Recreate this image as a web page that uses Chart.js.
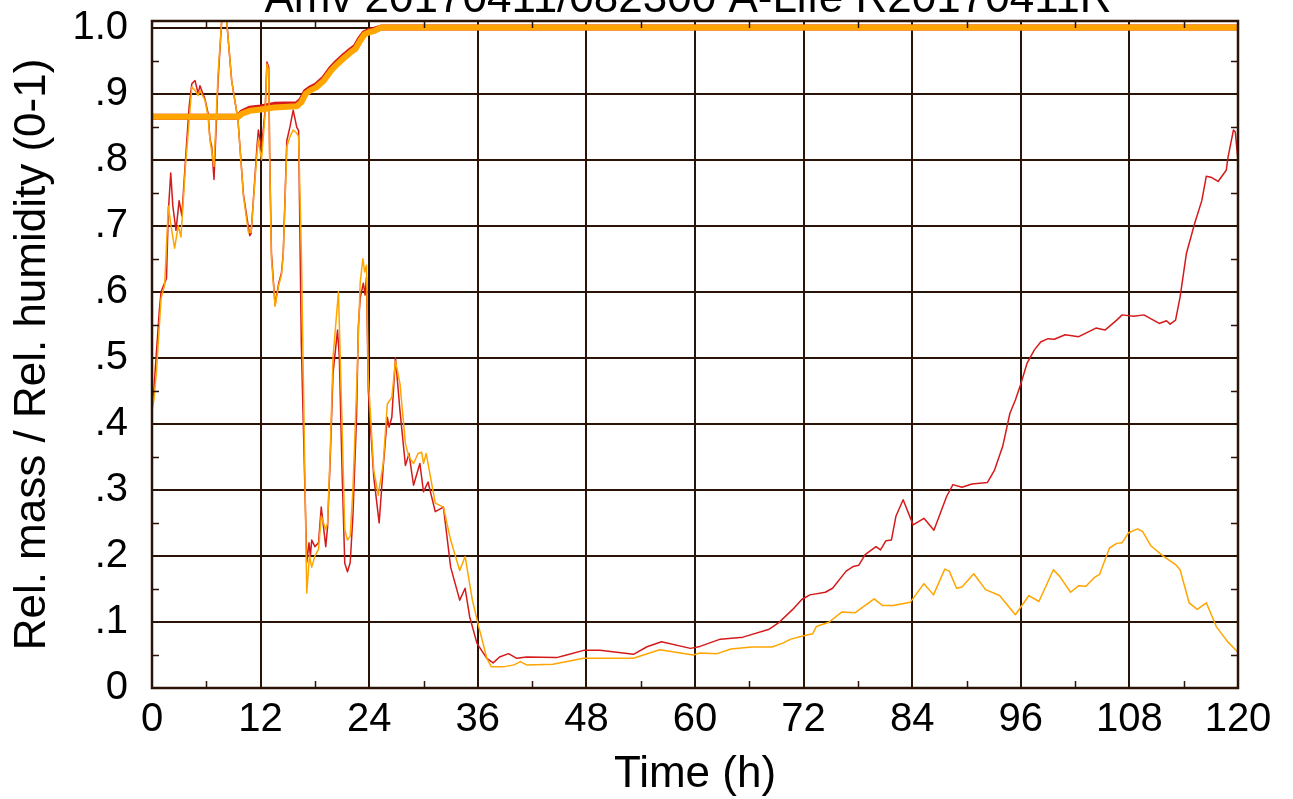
<!DOCTYPE html>
<html><head><meta charset="utf-8">
<script src="https://cdn.jsdelivr.net/npm/chart.js@4.4.1/dist/chart.umd.min.js"></script>
<style>html,body{margin:0;padding:0;background:#fff;overflow:hidden}#wrap{width:1293px;height:799px;position:relative}</style>
</head><body><div id="wrap"><canvas id="c" width="1293" height="799"></canvas></div>
<script>
const chartTitle = 'Amv 20170411/082300 A-Life R20170411R';
const xTitle = 'Time (h)';
const yTitle = 'Rel. mass / Rel. humidity (0-1)';
const xTickValues = [0,12,24,36,48,60,72,84,96,108,120];
const xTickLabels = ['0','12','24','36','48','60','72','84','96','108','120'];
const xMinorValues = [6,18,30,42,54,66,78,90,102,114];
const yTickValues = [0,0.1,0.2,0.3,0.4,0.5,0.6,0.7,0.8,0.9,1.0];
const yTickLabels = ['0','.1','.2','.3','.4','.5','.6','.7','.8','.9','1.0'];
const yMinorValues = [0.05,0.15,0.25,0.35,0.45,0.55,0.65,0.75,0.85,0.95];

const redMassTimes = [0,0.2,0.4,0.8,1.0,1.3,1.6,1.8,2.07,2.3,2.65,3.0,3.3,3.7,4.1,4.4,4.75,5.1,5.3,5.85,6.2,6.4,6.6,6.85,7.3,7.7,8.25,8.8,9.5,10.1,10.65,10.8,10.95,11.6,11.75,12.1,12.5,12.7,12.9,13.0,13.2,13.6,14.0,14.3,14.5,14.9,15.25,15.6,16.0,16.2,16.5,17.1,17.35,17.5,17.65,18.0,18.4,18.7,19.2,19.4,19.7,20.0,20.5,20.7,21.0,21.3,21.6,21.9,22.2,22.6,22.8,23.0,23.35,23.55,23.7,23.9,24.5,25.1,25.55,26.0,26.2,26.5,26.9,27.4,28.0,28.4,28.9,29.6,30.0,30.5,31.3,32.2,33.0,34.0,34.6,35.1,35.9,36.5,37.0,37.7,38.4,39.4,40.3,41.4,44.7,45.8,47.7,49.5,53.2,54.7,56.3,59.5,60.55,62.8,65.3,68.2,69.3,70.8,71.8,72.7,74.4,75.2,76.7,77.5,78.1,78.8,80.0,80.5,81.1,81.7,82.2,83.0,84.1,85.3,86.4,87.8,88.5,89.5,90.6,92.3,93.1,94.0,94.8,95.4,95.9,96.7,97.5,98.2,99.0,99.7,100.9,102.4,104.3,105.3,106.6,107.2,108.5,109.6,111.3,112.1,112.5,113.1,113.6,114.3,115.2,116.0,116.5,117.1,117.8,118.7,118.9,119.5,119.7,120.0];
const redMass = [0.43,0.45,0.49,0.57,0.60,0.61,0.62,0.72,0.78,0.73,0.693,0.738,0.715,0.80,0.88,0.915,0.92,0.90,0.912,0.892,0.87,0.832,0.82,0.77,0.92,1.01,1.01,0.92,0.86,0.748,0.698,0.685,0.688,0.82,0.845,0.817,0.875,0.948,0.94,0.81,0.658,0.58,0.613,0.628,0.658,0.829,0.85,0.875,0.849,0.844,0.52,0.19,0.22,0.20,0.224,0.214,0.22,0.274,0.214,0.244,0.35,0.476,0.542,0.50,0.33,0.189,0.176,0.19,0.26,0.41,0.547,0.59,0.613,0.595,0.622,0.45,0.32,0.25,0.335,0.41,0.395,0.41,0.50,0.42,0.337,0.355,0.307,0.34,0.297,0.312,0.267,0.274,0.183,0.133,0.151,0.108,0.068,0.055,0.045,0.038,0.047,0.052,0.045,0.047,0.046,0.05,0.057,0.057,0.051,0.0625,0.07,0.060,0.063,0.074,0.077,0.089,0.0995,0.119,0.134,0.141,0.145,0.151,0.177,0.184,0.186,0.202,0.214,0.209,0.223,0.224,0.26,0.285,0.247,0.257,0.239,0.29,0.308,0.304,0.309,0.311,0.33,0.366,0.416,0.436,0.456,0.492,0.512,0.524,0.529,0.528,0.535,0.532,0.545,0.542,0.557,0.565,0.563,0.565,0.552,0.556,0.551,0.557,0.592,0.658,0.703,0.738,0.775,0.773,0.767,0.784,0.804,0.845,0.842,0.799];

const orangeMassTimes = [0,0.2,0.5,1.0,1.4,1.8,2.1,2.5,2.9,3.2,3.7,4.4,4.75,5.1,5.3,5.85,6.2,6.4,6.85,7.3,7.7,8.25,8.8,9.5,10.1,10.65,10.95,11.6,11.75,12.1,12.5,12.7,12.9,13.0,13.2,13.6,14.0,14.3,14.5,14.9,15.25,15.6,16.0,16.2,16.5,17.1,17.4,17.65,18.0,18.4,18.7,19.2,19.4,19.7,20.0,20.6,21.0,21.3,21.6,21.9,22.2,22.6,23.0,23.3,23.5,23.7,23.9,24.5,25.0,25.55,26.0,26.5,26.9,27.4,28.0,28.4,28.9,29.4,29.8,30.0,30.3,31.3,32.2,33.0,34.0,34.6,35.4,36.1,37.0,37.5,38.8,40.0,40.7,41.4,44.3,47.7,53.2,56.1,59.8,60.55,62.45,63.97,66.26,68.5,69.7,70.6,72.0,73.0,73.4,74.8,76.2,77.7,79.8,80.7,81.9,83.8,85.3,86.35,87.6,88.1,88.9,89.5,90.8,92.1,93.65,95.4,96.9,98.0,99.6,100.3,101.5,102.4,103.2,104.1,104.7,105.8,106.6,107.2,107.9,108.9,109.45,110.4,111.7,113.1,113.6,114.6,115.5,116.5,117.6,118.8,120.0];
const orangeMass = [0.42,0.435,0.48,0.59,0.61,0.73,0.70,0.666,0.70,0.683,0.79,0.91,0.905,0.897,0.905,0.89,0.865,0.83,0.79,0.93,1.01,1.01,0.92,0.86,0.745,0.69,0.69,0.81,0.83,0.80,0.87,0.945,0.935,0.80,0.65,0.578,0.61,0.625,0.655,0.82,0.835,0.845,0.84,0.835,0.663,0.144,0.20,0.183,0.20,0.21,0.26,0.24,0.25,0.36,0.50,0.60,0.40,0.24,0.224,0.23,0.30,0.45,0.613,0.65,0.63,0.64,0.47,0.33,0.292,0.34,0.43,0.44,0.495,0.461,0.37,0.35,0.34,0.355,0.357,0.34,0.355,0.28,0.274,0.224,0.178,0.199,0.133,0.093,0.045,0.032,0.032,0.035,0.04,0.035,0.036,0.045,0.045,0.058,0.05,0.053,0.052,0.059,0.062,0.062,0.068,0.074,0.079,0.082,0.093,0.0995,0.115,0.114,0.135,0.125,0.125,0.13,0.158,0.141,0.18,0.177,0.151,0.153,0.173,0.149,0.14,0.111,0.14,0.131,0.179,0.169,0.145,0.155,0.154,0.167,0.172,0.212,0.219,0.22,0.235,0.241,0.237,0.215,0.2,0.187,0.179,0.129,0.119,0.129,0.093,0.071,0.054];

const rhTimes = [0,9.5,10.0,10.8,12.0,13.5,16.0,16.5,17.0,17.5,18.2,19.0,19.8,20.5,21.3,22.0,22.5,23.0,23.5,24.0,24.6,25.3,120];
const rhRed = [0.865,0.865,0.872,0.877,0.879,0.883,0.884,0.89,0.903,0.908,0.913,0.923,0.938,0.948,0.958,0.966,0.971,0.983,0.992,0.995,0.997,1.0,1.0];
const rhOrange = [0.865,0.865,0.87,0.874,0.876,0.879,0.881,0.887,0.90,0.905,0.91,0.92,0.935,0.945,0.955,0.963,0.968,0.98,0.99,0.993,0.995,1.0,1.0];

const RED = '#d41a1a';
const ORANGE = '#ffa500';
const GRID = '#2a1408';
const FONT = "'Liberation Sans', Arial, Helvetica, sans-serif";

const pts = (xs, ys) => xs.map((x, i) => ({x: x, y: ys[i]}));

const titlePlugin = {
  id: 'topTitle',
  afterDraw(chart) {
    const ctx = chart.ctx;
    ctx.save();
    ctx.fillStyle = '#000';
    ctx.font = '44px ' + FONT;
    ctx.textAlign = 'center';
    ctx.textBaseline = 'alphabetic';
    ctx.fillText(chartTitle, 688, 12);
    ctx.restore();
  }
};

const framePlugin = {
  id: 'frame',
  afterDatasetsDraw(chart) {
    const {ctx, chartArea: a, scales: {x, y}} = chart;
    ctx.save();
    ctx.strokeStyle = GRID;
    ctx.lineWidth = 1.5;
    ctx.beginPath();
    yMinorValues.forEach(v => {
      const py = Math.round(y.getPixelForValue(v)) + 0.5;
      ctx.moveTo(a.left, py); ctx.lineTo(a.left + 7, py);
      ctx.moveTo(a.right - 7, py); ctx.lineTo(a.right, py);
    });
    xMinorValues.forEach(v => {
      const px = Math.round(x.getPixelForValue(v)) + 0.5;
      ctx.moveTo(px, a.bottom); ctx.lineTo(px, a.bottom - 7);
      ctx.moveTo(px, a.top); ctx.lineTo(px, a.top + 7);
    });
    ctx.stroke();
    ctx.lineWidth = 2.5;
    ctx.strokeRect(a.left, a.top, a.right - a.left, a.bottom - a.top);
    ctx.restore();
  }
};

function noPad(s) { s.paddingTop = 0; s.paddingBottom = 0; s.paddingLeft = 0; s.paddingRight = 0; }

new Chart(document.getElementById('c'), {
  type: 'line',
  data: {
    datasets: [
      {label: 'RH orange', data: pts(rhTimes, rhOrange), borderColor: ORANGE, borderWidth: 6, order: 1},
      {label: 'Mass orange', data: pts(orangeMassTimes, orangeMass), borderColor: ORANGE, borderWidth: 1.5, order: 2},
      {label: 'RH red', data: pts(rhTimes, rhRed), borderColor: RED, borderWidth: 6, order: 3},
      {label: 'Mass red', data: pts(redMassTimes, redMass), borderColor: RED, borderWidth: 1.5, order: 4}
    ]
  },
  options: {
    responsive: false,
    animation: false,
    devicePixelRatio: 1,
    elements: {point: {radius: 0}, line: {tension: 0, fill: false, borderJoinStyle: 'round', borderCapStyle: 'butt'}},
    layout: {padding: {top: 21, right: 55, left: 0, bottom: 0}},
    plugins: {legend: {display: false}, tooltip: {enabled: false}, title: {display: false}},
    scales: {
      x: {
        type: 'linear', min: 0, max: 120,
        afterFit(s) { s.height = 111; noPad(s); },
        afterBuildTicks(s) { s.ticks = xTickValues.map(v => ({value: v})); },
        ticks: {
          autoSkip: false, maxRotation: 0, padding: 12,
          color: '#000', font: {family: FONT, size: 40, lineHeight: 1},
          callback: (v) => xTickLabels[xTickValues.indexOf(v)]
        },
        grid: {color: GRID, lineWidth: 2, drawTicks: false},
        border: {display: false},
        title: {display: true, text: xTitle, color: '#000', font: {family: FONT, size: 44, lineHeight: 1.2}, padding: {top: 0, bottom: -2}}
      },
      y: {
        type: 'linear', min: 0, max: 1.01,
        afterFit(s) { s.width = 152; noPad(s); },
        afterBuildTicks(s) { s.ticks = yTickValues.map(v => ({value: v})); },
        ticks: {
          autoSkip: false, padding: 24,
          color: '#000', font: {family: FONT, size: 40, lineHeight: 1},
          callback: (v) => yTickLabels[yTickValues.indexOf(v)]
        },
        grid: {color: GRID, lineWidth: 2, drawTicks: false},
        border: {display: false},
        title: {display: true, text: yTitle, color: '#000', font: {family: FONT, size: 44, lineHeight: 1.2}, padding: {top: 6, bottom: 0}}
      }
    }
  },
  plugins: [titlePlugin, framePlugin]
});
</script>
</body></html>
